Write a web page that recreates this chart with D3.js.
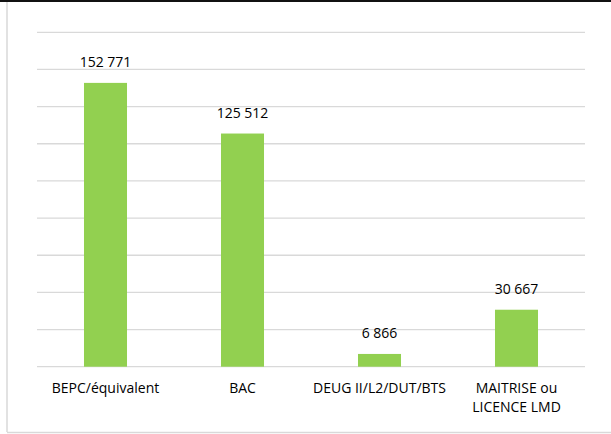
<!DOCTYPE html>
<html>
<head>
<meta charset="utf-8">
<script src="https://d3js.org/d3.v7.min.js"></script>
<style>
  html, body { margin: 0; padding: 0; background: #fff; }
  svg { display: block; }
</style>
</head>
<body>
<div id="container"></div>
<script>
const categories = ["BEPC/équivalent", "BAC", "DEUG II/L2/DUT/BTS", "MAITRISE ou\nLICENCE LMD"];
const values = [152771, 125512, 6866, 30667];
const yTicks = [0, 20000, 40000, 60000, 80000, 100000, 120000, 140000, 160000, 180000];

const w = 611;
const h = 434;
const padL = 37, padR = 585, padT = 32.3, padB = 366.7;

const svg = d3.select("#container")
  .append("svg")
  .attr("width", w)
  .attr("height", h);

// frame
svg.append("rect")
  .attr("x", 0).attr("y", 0).attr("width", w).attr("height", 2)
  .attr("fill", "#111");
svg.append("line")
  .attr("x1", 7).attr("x2", 7).attr("y1", 2).attr("y2", 432)
  .attr("stroke", "#d9d9d9").attr("stroke-width", 1.5);
svg.append("line")
  .attr("x1", 7).attr("x2", w).attr("y1", 432.5).attr("y2", 432.5)
  .attr("stroke", "#d9d9d9").attr("stroke-width", 1.5);

const xScale = d3.scaleBand()
  .domain(categories)
  .range([padL, padR])
  .paddingInner(0.686)
  .paddingOuter(0.343);

const yScale = d3.scaleLinear()
  .domain([0, 180000])
  .range([padB, padT]);

// gridlines
svg.append("g")
  .selectAll("line")
  .data(yTicks)
  .enter()
  .append("line")
  .attr("x1", padL)
  .attr("x2", padR)
  .attr("y1", d => yScale(d))
  .attr("y2", d => yScale(d))
  .attr("stroke", "#d9d9d9")
  .attr("stroke-width", 1.3);

// bars
svg.selectAll("rect.bar")
  .data(values)
  .enter()
  .append("rect")
  .attr("class", "bar")
  .attr("x", (d, i) => xScale(categories[i]))
  .attr("y", d => yScale(d))
  .attr("width", xScale.bandwidth())
  .attr("height", d => yScale(0) - yScale(d))
  .attr("fill", "#92d050");

const fmt = d => d3.format(",")(d).replace(/,/g, " ");

// value labels
svg.selectAll("text.val")
  .data(values)
  .enter()
  .append("text")
  .attr("class", "val")
  .attr("x", (d, i) => xScale(categories[i]) + xScale.bandwidth() / 2)
  .attr("y", d => yScale(d) - 16)
  .attr("text-anchor", "middle")
  .style("font-family", "'Open Sans', sans-serif")
  .style("font-size", "14px")
  .style("fill", "#000")
  .text(d => fmt(d));

// category labels
const cat = svg.selectAll("text.cat")
  .data(categories)
  .enter()
  .append("text")
  .attr("class", "cat")
  .attr("x", d => xScale(d) + xScale.bandwidth() / 2)
  .attr("y", 393.3)
  .attr("text-anchor", "middle")
  .style("font-family", "'Open Sans', sans-serif")
  .style("font-size", "14px")
  .style("fill", "#000");

cat.each(function(d) {
  const lines = d.split("\n");
  const t = d3.select(this);
  lines.forEach((l, j) => {
    t.append("tspan")
      .attr("x", xScale(d) + xScale.bandwidth() / 2)
      .attr("dy", j === 0 ? 0 : 18.3)
      .text(l);
  });
});
</script>
</body>
</html>
